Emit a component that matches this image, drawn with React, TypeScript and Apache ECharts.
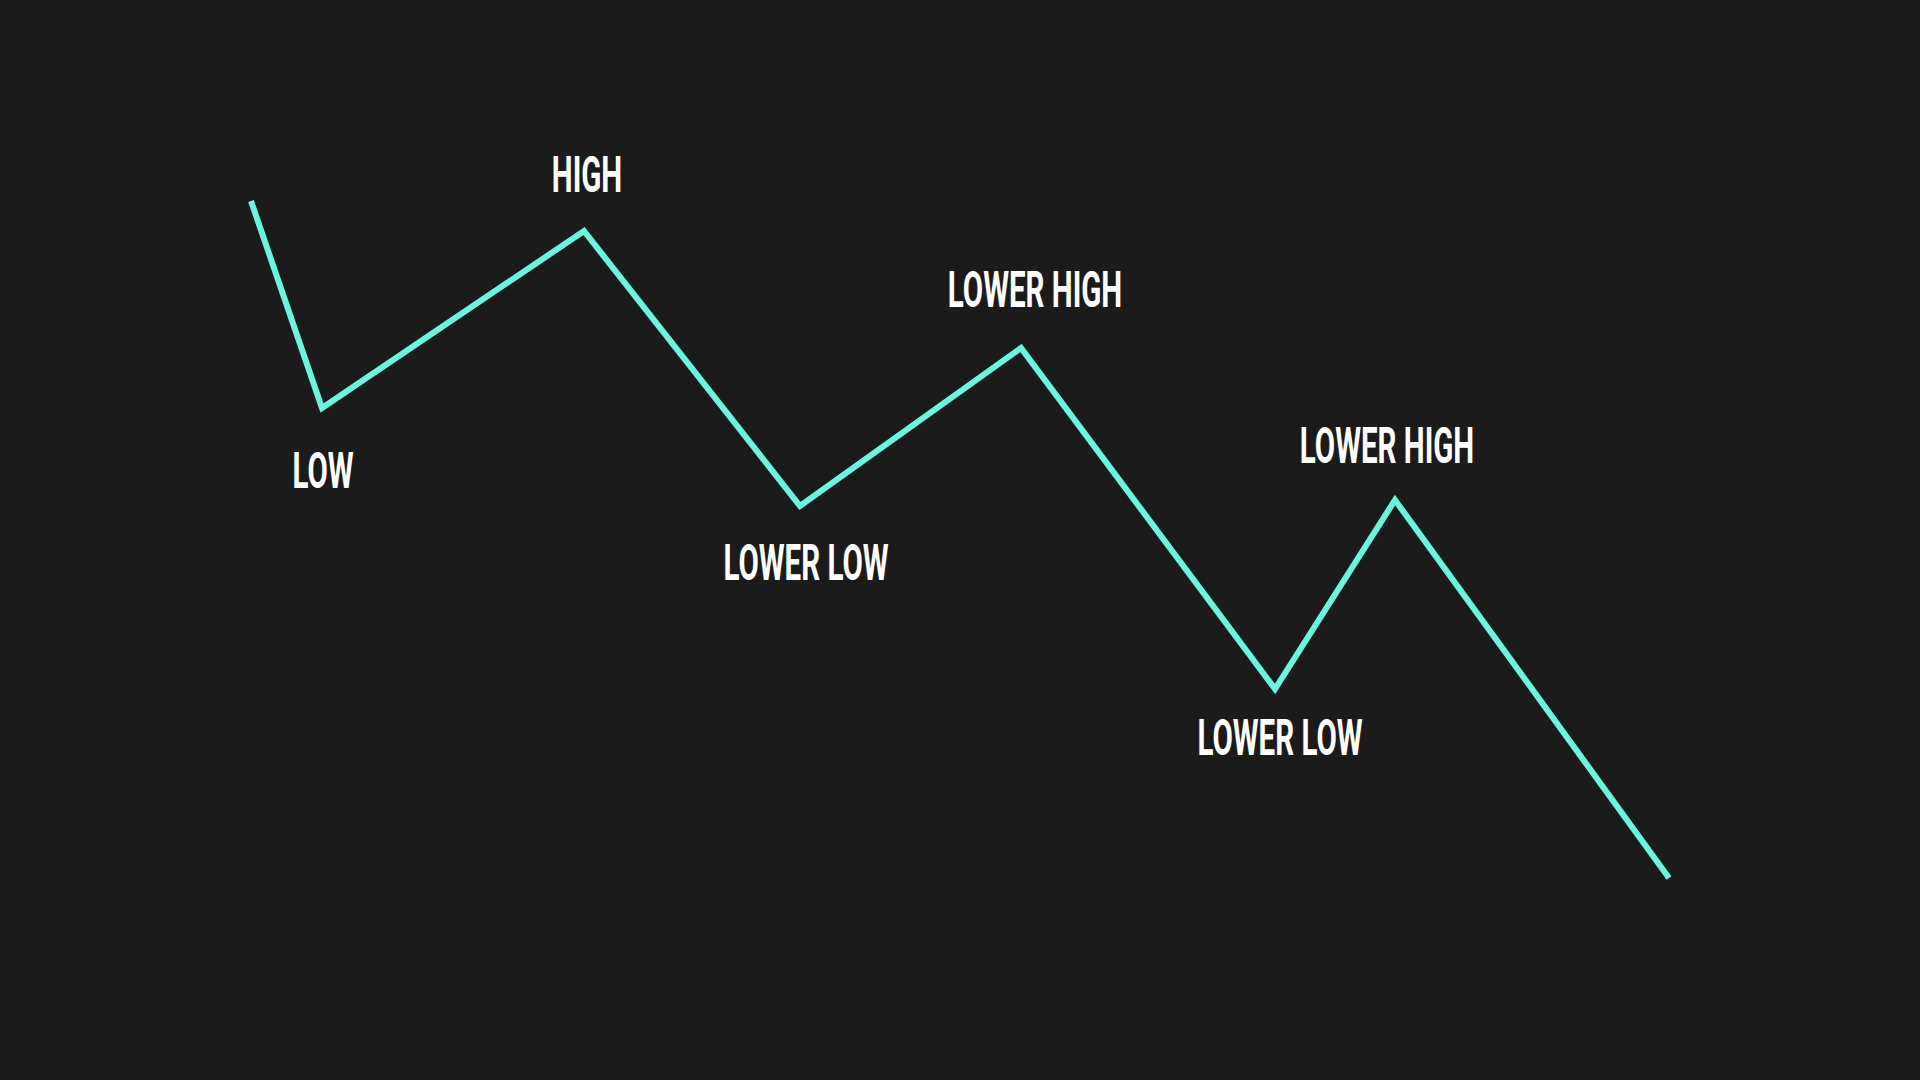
import React, { useEffect, useRef } from 'react';
import * as echarts from 'echarts';

// swing points of the price path (x = time position, y = price level)
const xValues = [251, 322, 584, 800, 1021, 1275, 1395, 1669];
const yValues = [879, 672, 849, 574, 732, 391, 580, 202];
const pointLabels = ['', 'LOW', 'HIGH', 'LOWER LOW', 'LOWER HIGH', 'LOWER LOW', 'LOWER HIGH', ''];

// pixel offset of each label centre from its swing point
const labelOffsets: [number, number][] = [
  [0, 0], [1, 63], [3, -56], [6, 57], [14, -58], [5, 49], [-8, -54], [0, 0],
];

const App: React.FC = () => {
  const chartRef = useRef<HTMLDivElement>(null);

  useEffect(() => {
    document.body.style.margin = '0';
    if (!chartRef.current) return;
    const chart = echarts.init(chartRef.current, undefined, { renderer: 'svg' });

    const pathData = xValues.map((x, i) => [x, yValues[i]]);
    const labelData = xValues
      .map((x, i) => [x, yValues[i], i])
      .filter((d) => pointLabels[d[2]] !== '');

    chart.setOption({
      animation: false,
      backgroundColor: '#1b1b1b',
      grid: { left: 0, right: 0, top: 0, bottom: 0 },
      xAxis: { type: 'value', min: 0, max: 1920, show: false },
      yAxis: { type: 'value', min: 0, max: 1080, show: false },
      series: [
        {
          type: 'line',
          data: pathData,
          symbol: 'none',
          lineStyle: { color: '#6af5de', width: 6, cap: 'butt', join: 'miter' },
          silent: true,
        },
        {
          type: 'custom',
          data: labelData,
          silent: true,
          renderItem: (params: any, api: any) => {
            const idx = api.value(2);
            const pt = api.coord([api.value(0), api.value(1)]);
            const off = labelOffsets[idx];
            return {
              type: 'text',
              x: pt[0] + off[0],
              y: pt[1] + off[1],
              scaleX: 0.59,
              style: {
                text: pointLabels[idx],
                fill: '#ffffff',
                font: 'bold 50px Roboto, "DejaVu Sans", sans-serif',
                align: 'center',
                verticalAlign: 'middle',
              },
            };
          },
        },
      ],
    });

    const handleResize = () => chart.resize();
    window.addEventListener('resize', handleResize);
    return () => {
      window.removeEventListener('resize', handleResize);
      chart.dispose();
    };
  }, []);

  return <div ref={chartRef} style={{ width: '100vw', height: '100vh' }} />;
};

export default App;
